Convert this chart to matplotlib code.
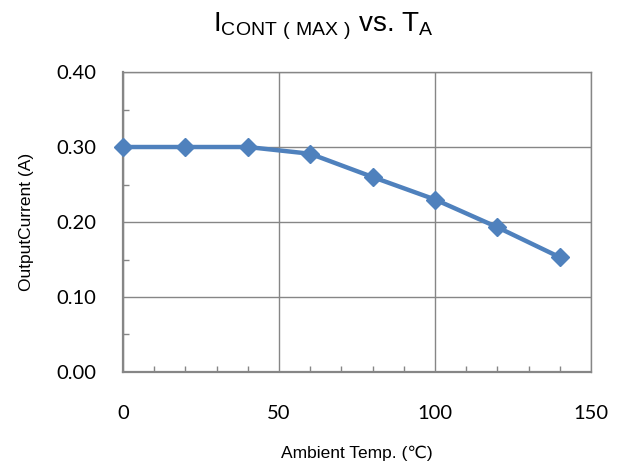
import matplotlib.pyplot as plt
from matplotlib.ticker import MultipleLocator, FormatStrFormatter

# données
temp_c = [0, 20, 40, 60, 80, 100, 120, 140]
courant_a = [0.300, 0.300, 0.300, 0.291, 0.260, 0.230, 0.193, 0.153]

x_ticks = [0, 50, 100, 150]
y_ticks = [0.00, 0.10, 0.20, 0.30, 0.40]

bleu = '#4F81BD'
gris = '#868686'

plt.rcParams['font.family'] = ['Liberation Sans', 'DejaVu Sans']
plt.rcParams['mathtext.fontset'] = 'custom'
plt.rcParams['mathtext.rm'] = 'Liberation Sans'

fig = plt.figure(figsize=(6.41, 4.71), dpi=100)
ax = fig.add_axes([0.1919, 0.2102, 0.7301, 0.6369])

ax.plot(temp_c, courant_a, color=bleu, lw=3.2, marker='D', ms=8.8,
        solid_joinstyle='round', clip_on=False, zorder=3)

ax.set_xlim(0, 150)
ax.set_ylim(0, 0.40)
ax.set_xticks(x_ticks)
ax.set_yticks(y_ticks)
ax.xaxis.set_minor_locator(MultipleLocator(10))
ax.yaxis.set_minor_locator(MultipleLocator(0.05))
ax.yaxis.set_major_formatter(FormatStrFormatter('%.2f'))

ax.grid(True, which='major', color=gris, lw=1.0)
ax.set_axisbelow(True)
for sp in ax.spines.values():
    sp.set_color(gris)
    sp.set_linewidth(1.0)
ax.spines['left'].set_linewidth(1.6)
ax.spines['bottom'].set_linewidth(1.6)

ax.tick_params(which='major', length=0, labelsize=14.5, colors='black')
ax.tick_params(axis='x', which='major', pad=24)
ax.tick_params(axis='y', which='major', pad=19)
ax.tick_params(which='minor', direction='in', length=4, width=1.0, color=gris)
for lab in ax.get_xticklabels() + ax.get_yticklabels():
    lab.set_family(['Lato', 'DejaVu Sans'])

ax.set_xlabel('Ambient Temp. (\u2103)', fontsize=12.5, labelpad=17)
ax.set_ylabel('OutputCurrent (A)', fontsize=12.5, labelpad=16)

fig.text(0.505, 0.945, r'$\mathregular{I_{CONT\ (\ MAX\ )}}$ vs. $\mathregular{T_A}$',
         ha='center', va='center', fontsize=20)

fig.savefig('out.png', dpi=100)
